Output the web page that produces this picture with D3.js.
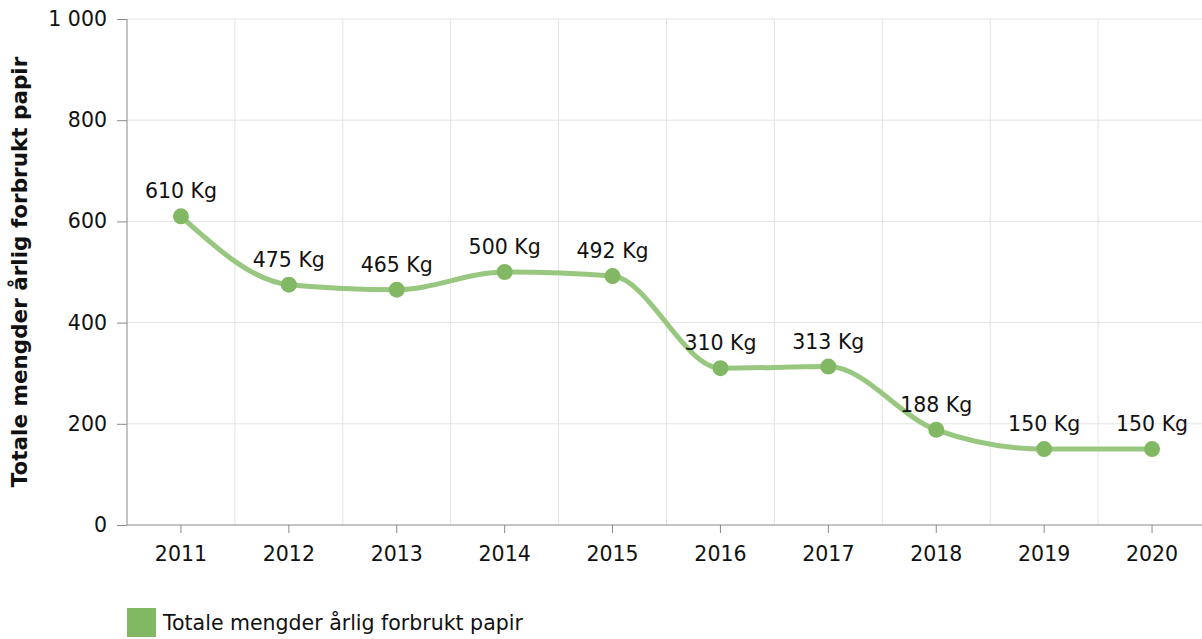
<!DOCTYPE html>
<html>
<head>
<meta charset="utf-8">
<script src="https://cdn.jsdelivr.net/npm/d3@7"></script>
<style>
  body { margin: 0; background: #fff; overflow: hidden; }
  svg { font-family: "DejaVu Sans", Verdana, sans-serif; }
</style>
</head>
<body>
<svg id="chart" width="1202" height="639"></svg>
<script>
// data
const years = ["2011", "2012", "2013", "2014", "2015", "2016", "2017", "2018", "2019", "2020"];
const values = [610, 475, 465, 500, 492, 310, 313, 188, 150, 150];
const yTicks = [0, 200, 400, 600, 800, 1000];
const seriesName = "Totale mengder årlig forbrukt papir";

const svg = d3.select("#chart");
const plotL = 127, plotR = 1206, plotT = 19, plotB = 525;
const green = "#82b864";
const fs = 20.5;

let x = d3.scaleBand().domain(years).range([plotL, plotR]);
let y = d3.scaleLinear().domain([0, 1000]).range([plotB, plotT]);

// grid
svg.append("g")
    .selectAll("line")
    .data(yTicks.slice(1))
    .join("line")
    .attr("x1", plotL).attr("x2", 1202)
    .attr("y1", d => y(d)).attr("y2", d => y(d))
    .attr("stroke", "#e3e3e3");

svg.append("g")
    .selectAll("line")
    .data(years.slice(1))
    .join("line")
    .attr("x1", d => x(d)).attr("x2", d => x(d))
    .attr("y1", plotT).attr("y2", plotB)
    .attr("stroke", "#e3e3e3");

// y axis
let yAxis = svg.append("g")
    .attr("transform", `translate(${plotL},0)`)
    .call(d3.axisLeft(y).tickValues(yTicks).tickSize(10).tickPadding(10)
        .tickFormat(d => d3.format(",")(d).replace(",", " ")));
yAxis.attr("font-size", fs).attr("font-family", null);
yAxis.select(".domain").attr("stroke", "#8a8a8a").attr("d", `M0,${plotT}V${plotB}`);
yAxis.selectAll(".tick line").attr("stroke", "#8a8a8a");
yAxis.selectAll("text").attr("fill", "#111");

// x axis
let xAxis = svg.append("g")
    .attr("transform", `translate(0,${plotB})`)
    .call(d3.axisBottom(x).tickSize(8).tickPadding(13));
xAxis.attr("font-size", fs).attr("font-family", null);
xAxis.select(".domain").attr("stroke", "#8a8a8a").attr("d", `M${plotL},0H1202`);
xAxis.selectAll(".tick line").attr("stroke", "#8a8a8a");
xAxis.selectAll("text").attr("fill", "#111");

// axis title
svg.append("text")
    .attr("transform", `translate(27,${(plotT + plotB) / 2}) rotate(-90)`)
    .attr("text-anchor", "middle")
    .attr("font-size", 21.5)
    .attr("font-weight", "bold")
    .attr("fill", "#111")
    .text(seriesName);

// line
let cx = d => x(d) + x.bandwidth() / 2;
let line = d3.line()
    .x((d, i) => cx(years[i]))
    .y(d => y(d))
    .curve(d3.curveMonotoneX);

svg.append("path")
    .datum(values)
    .attr("d", line)
    .attr("fill", "none")
    .attr("stroke", "#98c77f")
    .attr("stroke-width", 5)
    .attr("stroke-linecap", "round");

svg.append("g")
    .selectAll("circle")
    .data(values)
    .join("circle")
    .attr("cx", (d, i) => cx(years[i]))
    .attr("cy", d => y(d))
    .attr("r", 8)
    .attr("fill", green);

// labels
svg.append("g")
    .selectAll("text")
    .data(values)
    .join("text")
    .attr("x", (d, i) => cx(years[i]))
    .attr("y", d => y(d) - 18)
    .attr("text-anchor", "middle")
    .attr("font-size", fs)
    .attr("fill", "#111")
    .text(d => d + " Kg");

// legend
let legend = svg.append("g").attr("transform", "translate(127,608)");
legend.append("rect").attr("width", 29).attr("height", 29).attr("fill", green);
legend.append("text").attr("x", 36).attr("y", 22)
    .attr("font-size", fs).attr("fill", "#111")
    .text(seriesName);
</script>
</body>
</html>
